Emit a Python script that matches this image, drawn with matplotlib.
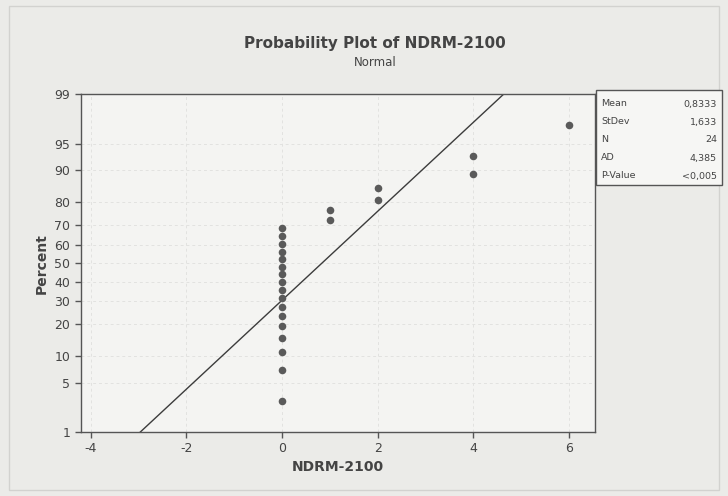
import matplotlib
matplotlib.use("Agg")
import matplotlib.pyplot as plt
from matplotlib.patches import Rectangle
from statistics import NormalDist
import numpy as np

# --- data (24 observations of NDRM-2100) ---
zeros = [0] * 17
others = [1, 1, 2, 2, 4, 4, 6]
values = np.array(zeros + others, dtype=float)

y_ticks = [1, 5, 10, 20, 30, 40, 50, 60, 70, 80, 90, 95, 99]
x_ticks = [-4, -2, 0, 2, 4, 6]

stat_labels = ["Mean", "StDev", "N", "AD", "P-Value"]
stat_values = ["0,8333", "1,633", "24", "4,385", "<0,005"]

# --- stats ---
nd = NormalDist()
n = len(values)
mean = values.mean()
sd = values.std(ddof=1)
ranks = np.arange(1, n + 1)
pct = (ranks - 0.3) / (n + 0.4)          # median ranks, Minitab style
z_pts = [nd.inv_cdf(p) for p in pct]
xs = np.sort(values)

def z(p):
    return nd.inv_cdf(p / 100.0)

# --- figure ---
bg = "#ebebe8"
fig = plt.figure(figsize=(7.28, 4.96), dpi=100, facecolor=bg)
fig.patches.append(Rectangle((0.012, 0.012), 0.976, 0.976, transform=fig.transFigure,
                             fill=False, edgecolor="#d2d2cf", linewidth=1.0))

ax = fig.add_axes([0.111, 0.129, 0.706, 0.681])
ax.set_facecolor("#f4f4f2")

# fitted line
zl = np.array([z(0.5), z(99.5)])
ax.plot(mean + sd * zl, zl, color="#3c3c3c", linewidth=1.0, zorder=2)
ax.scatter(xs, z_pts, s=30, color="#5a5a5a", zorder=3, linewidths=0)

ax.set_xlim(-4.21, 6.54)
ax.set_ylim(z(1), z(99))
ax.set_yticks([z(t) for t in y_ticks])
ax.set_yticklabels([str(t) for t in y_ticks])
ax.set_xticks(x_ticks)
ax.set_xticklabels([str(t) for t in x_ticks])

ax.grid(True, color="#e2e2e0", linestyle=(0, (3, 3)), linewidth=0.7, zorder=0)
for s in ax.spines.values():
    s.set_color("#555555")
    s.set_linewidth(1.0)
ax.tick_params(colors="#555555", labelcolor="#444444", labelsize=9, length=4, width=1)

ax.set_xlabel("NDRM-2100", fontsize=10, fontweight="bold", color="#444444", labelpad=3)
ax.set_ylabel("Percent", fontsize=10, fontweight="bold", color="#444444", labelpad=4)

fig.text(0.515, 0.912, "Probability Plot of NDRM-2100", ha="center", va="center",
         fontsize=11, fontweight="bold", color="#444444")
fig.text(0.515, 0.875, "Normal", ha="center", va="center", fontsize=8.5, color="#444444")

# stats box
box = Rectangle((0.819, 0.627), 0.173, 0.192, transform=fig.transFigure,
                facecolor="#f6f6f4", edgecolor="#555555", linewidth=1.0)
fig.patches.append(box)
row_y = [104, 122, 140, 158, 176]
for lab, val, py in zip(stat_labels, stat_values, row_y):
    fy = 1 - py / 496
    fig.text(601 / 728, fy, lab, ha="left", va="center", fontsize=6.8, color="#444444")
    fig.text(717 / 728, fy, val, ha="right", va="center", fontsize=6.8, color="#444444")

fig.savefig("out.png", dpi=100, facecolor=bg)
